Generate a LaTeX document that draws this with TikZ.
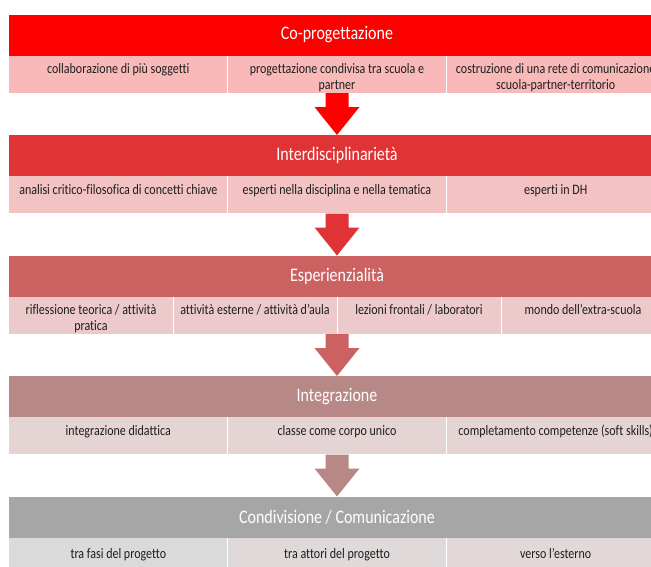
\documentclass[tikz,border=0pt]{standalone}
\usepackage{graphicx}
\usepackage{fontspec}
\setmainfont{Carlito}[Ligatures=NoCommon]
\usetikzlibrary{calc}
\definecolor{hA}{HTML}{FF0000}
\definecolor{hB}{HTML}{E03336}
\definecolor{hC}{HTML}{CC6161}
\definecolor{hD}{HTML}{B88886}
\definecolor{hE}{HTML}{A6A6A6}
\definecolor{sA}{HTML}{FAB9B9}
\definecolor{sB}{HTML}{F3C2C3}
\definecolor{sC}{HTML}{ECCACB}
\definecolor{sD}{HTML}{E5D4D4}
\definecolor{sE}{HTML}{DADADA}
\definecolor{sF}{HTML}{DFD9D9}
\definecolor{sG}{HTML}{E3D8D8}
\definecolor{txt}{HTML}{1E1E1E}
\newcommand\vs[1]{\scalebox{1}[1.2]{#1}}
\newcommand\blockarrow[3]{%
  \fill[#3] let \p1=(#1), \p2=(#2.north) in
    (\x1-11.5pt,\y1) -- (\x1+11.5pt,\y1) -- (\x1+11.5pt,\y2+28pt) --
    (\x1+22.5pt,\y2+28pt) -- (\x2,\y2) -- (\x1-22.5pt,\y2+28pt) --
    (\x1-11.5pt,\y2+28pt) -- cycle;}
\begin{document}
\begin{tikzpicture}[x=1pt,y=-1pt,
  hdr/.style={minimum width=656pt, minimum height=41pt, inner sep=0pt,
    outer sep=0pt, anchor=north west, text=white,
    font=\fontsize{16}{19}\selectfont},
  cell3/.style={minimum width=218.67pt, minimum height=37pt, inner sep=0pt,
    outer sep=0pt, anchor=north west},
  cell4/.style={minimum width=164pt, minimum height=37pt, inner sep=0pt,
    outer sep=0pt, anchor=north west},
  celltext/.style={anchor=north, align=center, inner sep=0pt,
    font=\fontsize{12}{16}\selectfont, text=txt},
  divider/.style={draw=white, line width=0.8pt},
]
\useasboundingbox (0,0) rectangle (651,566);
\clip (0,0) rectangle (651,566);

% ---------- Band 1 ----------
\node[hdr, fill=hA] (h1) at (9,14.5) {\vs{Co-progettazione}};
\node[cell3, fill=sA] (c11) at (9,55.5) {};
\node[cell3, fill=sA] (c12) at (227.67,55.5) {};
\node[cell3, fill=sA] (c13) at (446.33,55.5) {};
\draw[divider] (c11.north east) -- (c11.south east);
\draw[divider] (c12.north east) -- (c12.south east);
\node[celltext] (t11) at (118.33,63.5) {\vs{collaborazione di più soggetti}};
\node[celltext] (t12) at (337,63.5) {\vs{progettazione condivisa tra scuola e}\\\vs{partner}};
\node[celltext] (t13) at (555.67,63.5) {\vs{costruzione di una rete di comunicazione}\\\vs{scuola-partner-territorio}};
\coordinate (a1) at (337,93);

% ---------- Band 2 ----------
\node[hdr, fill=hB] (h2) at (9,135) {\vs{Interdisciplinarietà}};
\node[cell3, fill=sB] (c21) at (9,176) {};
\node[cell3, fill=sB] (c22) at (227.67,176) {};
\node[cell3, fill=sB] (c23) at (446.33,176) {};
\draw[divider] (c21.north east) -- (c21.south east);
\draw[divider] (c22.north east) -- (c22.south east);
\node[celltext] (t21) at (118.33,184) {\vs{analisi critico-filosofica di concetti chiave}};
\node[celltext] (t22) at (337,184) {\vs{esperti nella disciplina e nella tematica}};
\node[celltext] (t23) at (555.67,184) {\vs{esperti in DH}};
\coordinate (a2) at (337,213.5);

% ---------- Band 3 ----------
\node[hdr, fill=hC] (h3) at (9,255.5) {\vs{Esperienzialità}};
\node[cell4, fill=sC] (c31) at (9,296.5) {};
\node[cell4, fill=sC] (c32) at (173,296.5) {};
\node[cell4, fill=sC] (c33) at (337,296.5) {};
\node[cell4, fill=sC] (c34) at (501,296.5) {};
\draw[divider] (c31.north east) -- (c31.south east);
\draw[divider] (c32.north east) -- (c32.south east);
\draw[divider] (c33.north east) -- (c33.south east);
\node[celltext] (t31) at (91,304.5) {\vs{riflessione teorica / attività}\\\vs{pratica}};
\node[celltext] (t32) at (255,304.5) {\vs{attività esterne / attività d’aula}};
\node[celltext] (t33) at (419,304.5) {\vs{lezioni frontali / laboratori}};
\node[celltext] (t34) at (583,304.5) {\vs{mondo dell’extra-scuola}};
\coordinate (a3) at (337,334);

% ---------- Band 4 ----------
\node[hdr, fill=hD] (h4) at (9,376) {\vs{Integrazione}};
\node[cell3, fill=sD] (c41) at (9,417) {};
\node[cell3, fill=sD] (c42) at (227.67,417) {};
\node[cell3, fill=sD] (c43) at (446.33,417) {};
\draw[divider] (c41.north east) -- (c41.south east);
\draw[divider] (c42.north east) -- (c42.south east);
\node[celltext] (t41) at (118.33,425) {\vs{integrazione didattica}};
\node[celltext] (t42) at (337,425) {\vs{classe come corpo unico}};
\node[celltext] (t43) at (555.67,425) {\vs{completamento competenze (soft skills)}};
\coordinate (a4) at (337,454.5);

% ---------- Band 5 ----------
\node[hdr, fill=hE] (h5) at (9,496.5) {\vs{Condivisione / Comunicazione}};
\node[cell3, fill=sE] (c51) at (9,537.5) {};
\node[cell3, fill=sF] (c52) at (227.67,537.5) {};
\node[cell3, fill=sG] (c53) at (446.33,537.5) {};
\draw[divider] (c51.north east) -- (c51.south east);
\draw[divider] (c52.north east) -- (c52.south east);
\node[celltext] (t51) at (118.33,548) {\vs{tra fasi del progetto}};
\node[celltext] (t52) at (337,548) {\vs{tra attori del progetto}};
\node[celltext] (t53) at (555.67,548) {\vs{verso l’esterno}};

% ---------- Arrows ----------
\blockarrow{a1}{h2}{hA}
\blockarrow{a2}{h3}{hB}
\blockarrow{a3}{h4}{hC}
\blockarrow{a4}{h5}{hD}
\end{tikzpicture}
\end{document}
